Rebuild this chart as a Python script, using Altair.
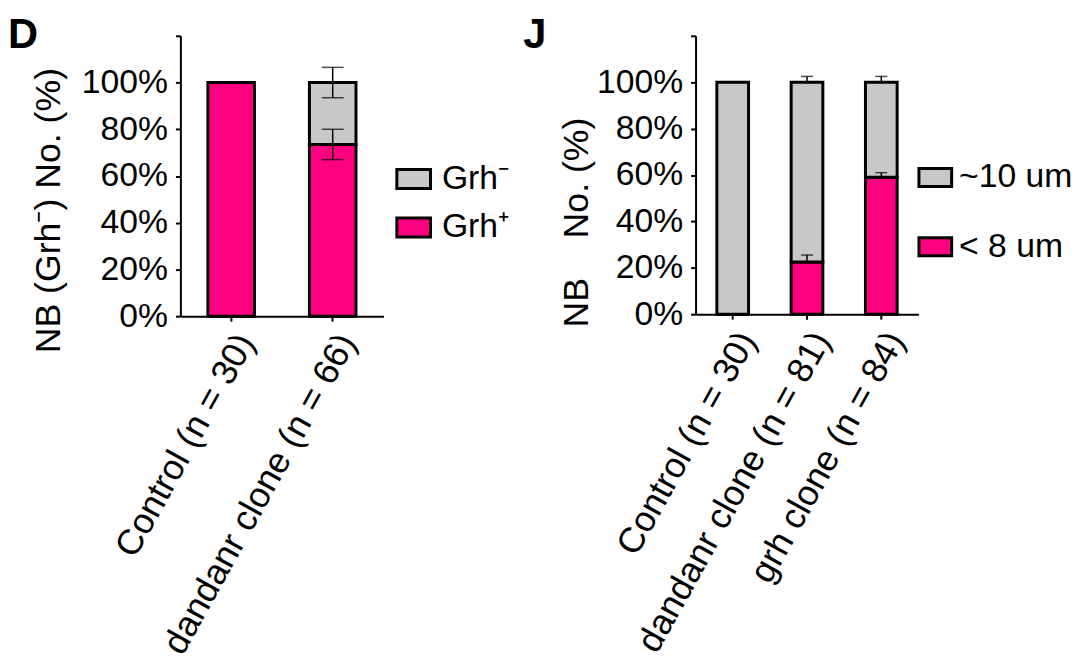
import altair as alt
import pandas as pd

FONT = "Liberation Sans"
PINK = "#FF0080"
GRAY = "#C8C8C8"

# ---------------- Panel D data ----------------
d_groups = ["Control (n = 30)", "dandanr clone (n = 66)"]
d_series = ["Grh\u207b", "Grh\u207a"]          # legend order (Grh-, Grh+)
d_plus = [100.0, 73.5]                          # Grh+ (bottom)
d_minus = [0.0, 26.5]                           # Grh- (top)
d_plus_err = [0.0, 6.5]
d_minus_err = [0.0, 6.5]

# ---------------- Panel J data ----------------
j_groups = ["Control (n = 30)", "dandanr clone (n = 81)", "grh clone (n = 84)"]
j_series = ["~10 um", "< 8 um"]                 # legend order
j_small = [0.0, 22.5, 59.0]                     # < 8 um (bottom)
j_large = [100.0, 77.5, 41.0]                   # ~10 um (top)
j_small_err = [0.0, 3.0, 2.0]
j_large_err = [0.0, 2.5, 2.5]


def build_tables(groups, bottom, top, bottom_err, top_err, series, two_sided):
    bars, errs, caps = [], [], []
    for g, b, t, eb, et in zip(groups, bottom, top, bottom_err, top_err):
        bars.append({"group": g, "series": series[1], "value": b, "k": 0})
        bars.append({"group": g, "series": series[0], "value": t, "k": 1})
        for cum, e in ((b, eb), (b + t, et)):
            if e > 0:
                lo = cum - e if two_sided else cum
                hi = cum + e
                errs.append({"group": g, "lo": lo, "hi": hi})
                caps.append({"group": g, "cap": hi})
                if two_sided:
                    caps.append({"group": g, "cap": lo})
    return pd.DataFrame(bars), pd.DataFrame(errs), pd.DataFrame(caps)


def panel(groups, bars, errs, caps, series, width, height, bar_w, cap_w,
          letter, ytitle, title_x, title_y, leg_x, leg_y, leg_pad, sym_path,
          sym_size, label_offset):
    xenc = alt.X(
        "group:N", sort=groups,
        scale=alt.Scale(paddingInner=0, paddingOuter=0),
        axis=alt.Axis(title=None, labelAngle=-61, labelFontSize=36,
                      labelLimit=1000, labelPadding=7, labelAlign="right",
                      labelBaseline="top", tickSize=5),
    )
    yaxis = alt.Axis(
        values=[0, 20, 40, 60, 80, 100, 120],
        labelExpr="datum.value > 100 ? '' : datum.value + '%'",
        title=ytitle, titleX=title_x, titleY=title_y, titleAngle=-90,
        titleAlign="left", titleBaseline="middle", titleFontSize=36,
        titleFontWeight="normal", titleFont=FONT, titleColor="black",
        labelPadding=8, tickSize=5,
    )
    yscale = alt.Scale(domain=[0, 120], nice=False)

    bar = alt.Chart(bars).mark_bar(size=bar_w, stroke="black", strokeWidth=3).encode(
        x=xenc,
        y=alt.Y("value:Q", stack="zero", scale=yscale, axis=yaxis),
        color=alt.Color(
            "series:N",
            scale=alt.Scale(domain=series, range=[GRAY, PINK]),
            legend=alt.Legend(
                title=None, orient="none", legendX=leg_x, legendY=leg_y,
                symbolType=sym_path, symbolSize=sym_size,
                symbolStrokeColor="black", symbolStrokeWidth=3,
                symbolOpacity=1, labelFont=FONT, labelFontSize=34,
                labelColor="black", rowPadding=leg_pad,
                labelOffset=label_offset, padding=0,
            ),
        ),
        order=alt.Order("k:Q"),
    )
    rule = alt.Chart(errs).mark_rule(color="black", strokeWidth=1.5).encode(
        x=xenc,
        y=alt.Y("lo:Q", scale=yscale, axis=yaxis),
        y2="hi:Q",
    )
    tick = alt.Chart(caps).mark_tick(color="black", thickness=1.5, size=cap_w).encode(
        x=xenc,
        y=alt.Y("cap:Q", scale=yscale, axis=yaxis),
    )
    tag = alt.Chart(pd.DataFrame({"t": [letter]})).mark_text(
        font=FONT, fontSize=42, fontWeight="bold", color="black",
        align="left", baseline="alphabetic",
    ).encode(text="t:N", x=alt.value(-174), y=alt.value(12))
    return alt.layer(bar, rule, tick, tag).properties(width=width, height=height)


d_bars, d_errs, d_caps = build_tables(d_groups, d_plus, d_minus, d_plus_err,
                                      d_minus_err, d_series, True)
j_bars, j_errs, j_caps = build_tables(j_groups, j_small, j_large, j_small_err,
                                      j_large_err, j_series, False)

rect_d = "M-1,-0.56H1V0.56H-1Z"
rect_j = "M-1,-0.55H1V0.55H-1Z"

chart_d = panel(d_groups, d_bars, d_errs, d_caps, d_series, 205, 283, 47, 22,
                "D", "NB (Grh\u207b) No. (%)", -133, 320, 217, 126, 13,
                rect_d, 34 * 34, 10)
chart_j = panel(j_groups, j_bars, j_errs, j_caps, j_series, 225, 281, 32, 12,
                "J", "NB" + "\u00a0" * 4 + "No. (%)", -120, 294, 224, 125, 35,
                rect_j, 33 * 33, 6)

chart = alt.hconcat(chart_d, chart_j, spacing=315, bounds="flush").resolve_scale(
    color="independent"
).properties(
    padding={"left": 0, "top": 3, "right": 0, "bottom": 0}
).configure_view(stroke=None).configure_axis(
    domainColor="black", domainWidth=2, tickColor="black", tickWidth=2,
    labelFont=FONT, labelFontSize=34, labelColor="black", grid=False,
).configure_axisY(labelBaseline="middle")

chart.save("out.html", embed_options={"renderer": "svg", "actions": False})
